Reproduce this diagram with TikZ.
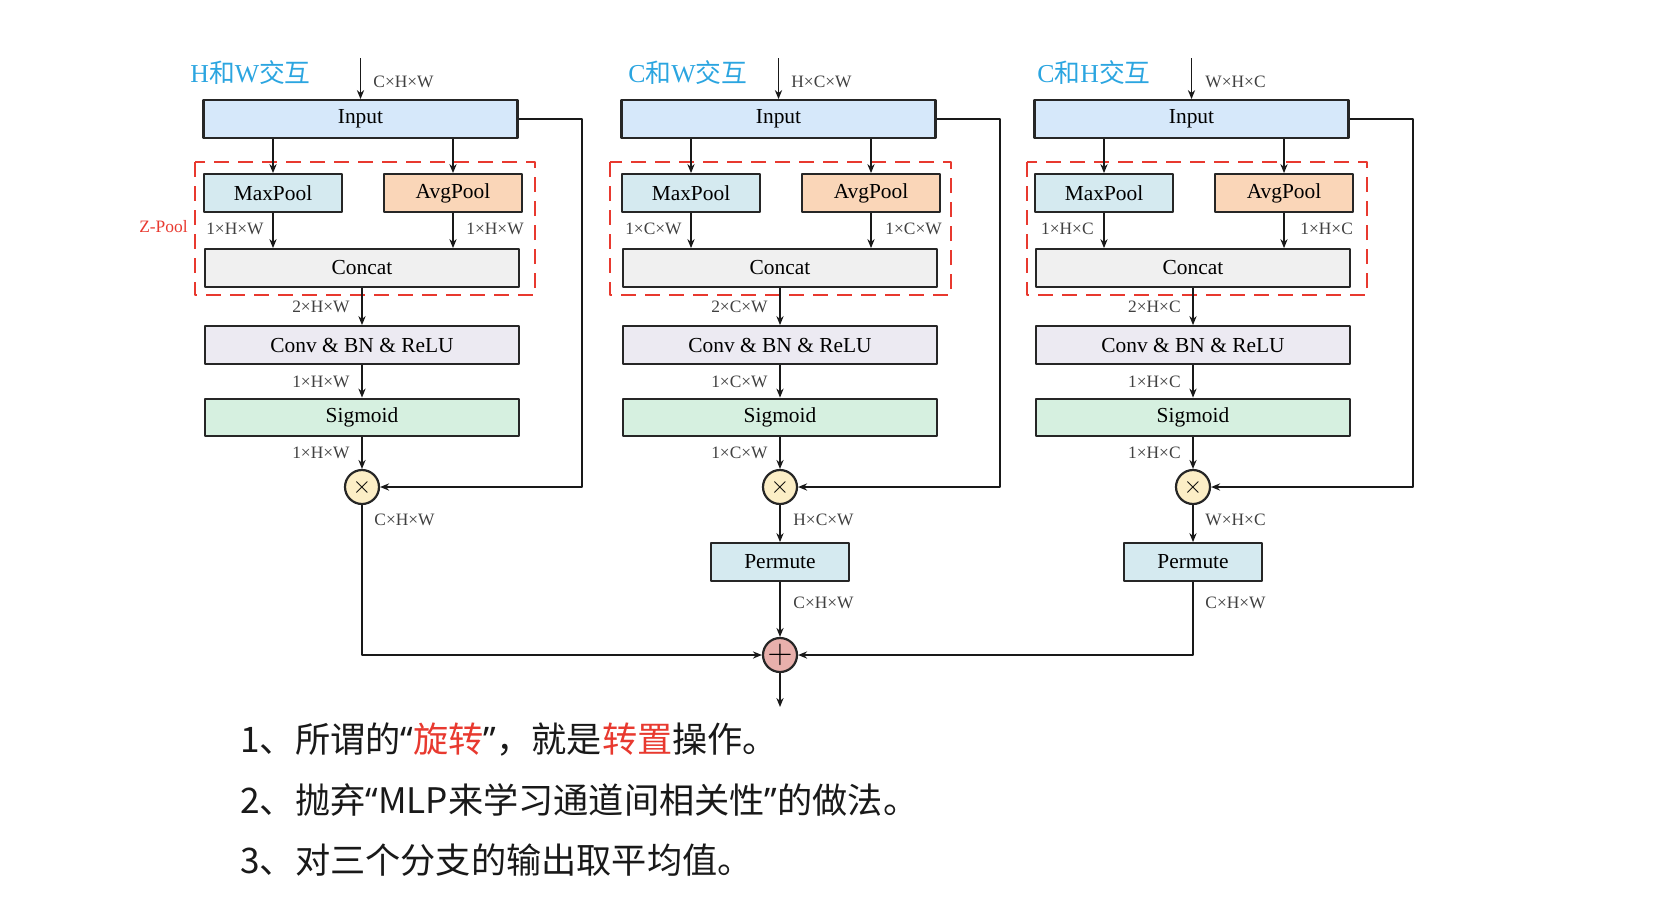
\documentclass[tikz,border=0pt]{standalone}
\usepackage{fontspec}
\setmainfont{Liberation Serif}
\newfontfamily\cjk{Noto Sans CJK SC}
\newfontfamily\quotefont{Noto Sans}
\usetikzlibrary{arrows.meta}
\definecolor{inblue}{RGB}{214,232,250}
\definecolor{poolblue}{RGB}{213,234,240}
\definecolor{poolpeach}{RGB}{250,214,184}
\definecolor{catgray}{RGB}{240,240,240}
\definecolor{convlav}{RGB}{236,234,242}
\definecolor{siggreen}{RGB}{214,240,224}
\definecolor{mulyellow}{RGB}{252,238,198}
\definecolor{addpink}{RGB}{232,176,172}
\definecolor{titleblue}{RGB}{43,165,224}
\definecolor{zred}{RGB}{232,57,47}

\begin{document}
\begin{tikzpicture}[x=0.5pt,y=-0.5pt,join=round,>={Stealth[length=4.5pt,width=3.6pt]},
   box/.style={draw=black!85,line width=1.1pt,minimum width=157pt,minimum height=18.8pt,inner sep=0pt,font=\fontsize{10.7}{12}\selectfont},
   smallbox/.style={box,minimum width=69pt},
   dim/.style={font=\fontsize{8.7}{10}\selectfont,text=black!75,inner sep=0pt},
   op/.style={circle,draw=black!85,line width=1.1pt,minimum size=17pt,inner sep=0pt},
   link/.style={->,line width=0.9pt,draw=black!90},
   title/.style={anchor=west,inner sep=0pt,text=titleblue,font=\fontsize{12.9}{15}\selectfont},
   zpool/.style={draw=zred,line width=1pt,dash pattern=on 7.5pt off 4.5pt},
   note/.style={anchor=west,inner sep=0pt,text=black!90,font=\cjk\fontsize{17.6}{20}\selectfont}] %triplet attention, three branches
         \useasboundingbox (0,0) rectangle (1670,910);
         \node[title] (t1) at (190,73) {H{\cjk 和}W{\cjk 交互}};
         \node[title] (t2) at (628,73) {C{\cjk 和}W{\cjk 交互}};
         \node[title] (t3) at (1037,73) {C{\cjk 和}H{\cjk 交互}};
         \draw[zpool] (195,162) rectangle (535,295);
         \draw[zpool] (610,162) rectangle (951,295);
         \draw[zpool] (1027,162) rectangle (1367,295);
         \node[dim,text=zred,anchor=east] (z) at (188,227) {Z-Pool};
         %branch 1
         \coordinate (src1) at (360.5,58);
         \node[box,fill=inblue] (in1) at (360.5,119) {Input};
         \node[smallbox,fill=poolblue] (mp1) at (273,193) {MaxPool};
         \node[smallbox,fill=poolpeach] (ap1) at (453,193) {AvgPool};
         \node[box,fill=catgray] (cat1) at (362,268) {Concat};
         \node[box,fill=convlav] (conv1) at (362,345) {Conv \& BN \& ReLU};
         \node[box,fill=siggreen] (sig1) at (362,417.5) {Sigmoid};
         \node[op,fill=mulyellow,font=\fontsize{13}{13}\selectfont] (mul1) at (362,487) {$\times$};
         \coordinate (fb1) at (582,487);
         %branch 2
         \coordinate (src2) at (778.5,58);
         \node[box,fill=inblue] (in2) at (778.5,119) {Input};
         \node[smallbox,fill=poolblue] (mp2) at (691,193) {MaxPool};
         \node[smallbox,fill=poolpeach] (ap2) at (871,193) {AvgPool};
         \node[box,fill=catgray] (cat2) at (780,268) {Concat};
         \node[box,fill=convlav] (conv2) at (780,345) {Conv \& BN \& ReLU};
         \node[box,fill=siggreen] (sig2) at (780,417.5) {Sigmoid};
         \node[op,fill=mulyellow,font=\fontsize{13}{13}\selectfont] (mul2) at (780,487) {$\times$};
         \node[smallbox,fill=poolblue] (per2) at (780,562) {Permute};
         \coordinate (fb2) at (1000,487);
         %branch 3
         \coordinate (src3) at (1191.5,58);
         \node[box,fill=inblue] (in3) at (1191.5,119) {Input};
         \node[smallbox,fill=poolblue] (mp3) at (1104,193) {MaxPool};
         \node[smallbox,fill=poolpeach] (ap3) at (1284,193) {AvgPool};
         \node[box,fill=catgray] (cat3) at (1193,268) {Concat};
         \node[box,fill=convlav] (conv3) at (1193,345) {Conv \& BN \& ReLU};
         \node[box,fill=siggreen] (sig3) at (1193,417.5) {Sigmoid};
         \node[op,fill=mulyellow,font=\fontsize{13}{13}\selectfont] (mul3) at (1193,487) {$\times$};
         \node[smallbox,fill=poolblue] (per3) at (1193,562) {Permute};
         \coordinate (fb3) at (1413,487);
         %sum
         \node[op,fill=addpink,font=\fontsize{16}{16}\selectfont] (add) at (780,655) {$+$};
         \coordinate (out) at (780,707);
         %connectors
         \draw[link] (src1) -- (in1);
         \draw[link] (src2) -- (in2);
         \draw[link] (src3) -- (in3);
         \draw[link] (in1.south -| mp1) -- (mp1);
         \draw[link] (in1.south -| ap1) -- (ap1);
         \draw[link] (in2.south -| mp2) -- (mp2);
         \draw[link] (in2.south -| ap2) -- (ap2);
         \draw[link] (in3.south -| mp3) -- (mp3);
         \draw[link] (in3.south -| ap3) -- (ap3);
         \draw[link] (mp1) -- (mp1 |- cat1.north);
         \draw[link] (ap1) -- (ap1 |- cat1.north);
         \draw[link] (mp2) -- (mp2 |- cat2.north);
         \draw[link] (ap2) -- (ap2 |- cat2.north);
         \draw[link] (mp3) -- (mp3 |- cat3.north);
         \draw[link] (ap3) -- (ap3 |- cat3.north);
         \draw[link] (cat1) -- (conv1);
         \draw[link] (conv1) -- (sig1);
         \draw[link] (sig1) -- (mul1);
         \draw[link] (cat2) -- (conv2);
         \draw[link] (conv2) -- (sig2);
         \draw[link] (sig2) -- (mul2);
         \draw[link] (mul2) -- (per2);
         \draw[link] (cat3) -- (conv3);
         \draw[link] (conv3) -- (sig3);
         \draw[link] (sig3) -- (mul3);
         \draw[link] (mul3) -- (per3);
         \draw[link] (in1.east) -| (fb1) -- (mul1);
         \draw[link] (in2.east) -| (fb2) -- (mul2);
         \draw[link] (in3.east) -| (fb3) -- (mul3);
         \draw[link] (mul1) |- (add);
         \draw[link] (per2) -- (add);
         \draw[link] (per3) |- (add);
         \draw[link] (add) -- (out);
         %sizes
         \path[dim]
                (373,82) node [anchor=west] {C×H×W}
                (264,229) node [anchor=east] {1×H×W}
                (466,229) node [anchor=west] {1×H×W}
                (350,307) node [anchor=east] {2×H×W}
                (350,382) node [anchor=east] {1×H×W}
                (350,453) node [anchor=east] {1×H×W}
                (374,520) node [anchor=west] {C×H×W}
                (791,82) node [anchor=west] {H×C×W}
                (682,229) node [anchor=east] {1×C×W}
                (885,229) node [anchor=west] {1×C×W}
                (768,307) node [anchor=east] {2×C×W}
                (768,382) node [anchor=east] {1×C×W}
                (768,453) node [anchor=east] {1×C×W}
                (793,520) node [anchor=west] {H×C×W}
                (793,603) node [anchor=west] {C×H×W}
                (1205,82) node [anchor=west] {W×H×C}
                (1094,229) node [anchor=east] {1×H×C}
                (1300,229) node [anchor=west] {1×H×C}
                (1181,307) node [anchor=east] {2×H×C}
                (1181,382) node [anchor=east] {1×H×C}
                (1181,453) node [anchor=east] {1×H×C}
                (1205,520) node [anchor=west] {W×H×C}
                (1205,603) node [anchor=west] {C×H×W};
         \node[note] (n1) at (240,740) {1、所谓的{\quotefont “}{\color{zred}旋转}{\quotefont ”}，就是{\color{zred}转置}操作。};
         \node[note] (n2) at (240,800) {2、抛弃{\quotefont “}MLP来学习通道间相关性{\quotefont ”}的做法。};
         \node[note] (n3) at (240,860) {3、对三个分支的输出取平均值。};
\end{tikzpicture}
\end{document}
